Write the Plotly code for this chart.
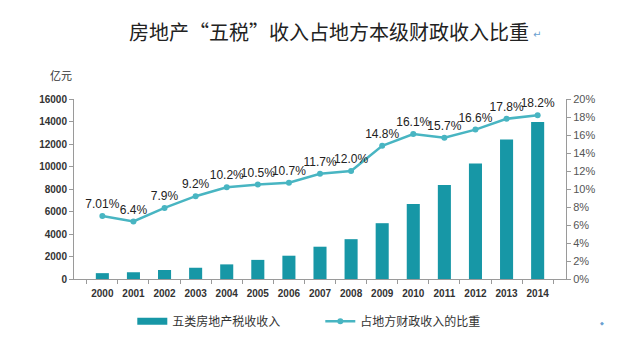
import plotly.graph_objects as go

years = ["2000","2001","2002","2003","2004","2005","2006","2007","2008","2009","2010","2011","2012","2013","2014"]
tax_revenue = [520, 600, 800, 1000, 1300, 1700, 2070, 2870, 3540, 4960, 6670, 8350, 10270, 12400, 13960]
share_pct = [7.01, 6.4, 7.9, 9.2, 10.2, 10.5, 10.7, 11.7, 12.0, 14.8, 16.1, 15.7, 16.6, 17.8, 18.2]
share_labels = ["7.01%", "6.4%", "7.9%", "9.2%", "10.2%", "10.5%", "10.7%", "11.7%", "12.0%", "14.8%", "16.1%", "15.7%", "16.6%", "17.8%", "18.2%"]

title_text = "房地产“五税”收入占地方本级财政收入比重"
bar_name = "五类房地产税收收入"
line_name = "占地方财政收入的比重"

bar_color = "#1797a6"
line_color = "#48b5c2"
cjk = "Noto Sans CJK SC"

fig = go.Figure()
fig.add_trace(go.Bar(
    x=years, y=tax_revenue, name=bar_name,
    marker=dict(color=bar_color, line=dict(width=0)),
    yaxis="y", showlegend=False,
))
# legend proxy giving the wide rectangular swatch of the bar series
fig.add_trace(go.Scatter(
    x=[None], y=[None], name=bar_name, mode="lines",
    line=dict(color=bar_color, width=7), yaxis="y",
))
fig.add_trace(go.Scatter(
    x=years, y=share_pct, name=line_name, yaxis="y2",
    mode="lines+markers+text",
    line=dict(color=line_color, width=2.5),
    marker=dict(color=line_color, size=6),
    text=share_labels, textposition="top center",
    textfont=dict(family="Liberation Sans", size=12, color="#222222"),
    cliponaxis=False,
))

fig.update_layout(
    width=630, height=340,
    margin=dict(l=74, r=64, t=99, b=61, autoexpand=False),
    paper_bgcolor="white", plot_bgcolor="white",
    bargap=0.58,
    showlegend=True,
    legend=dict(
        orientation="h", xref="container", yref="container",
        x=0.21, y=0.055, xanchor="left", yanchor="middle",
        font=dict(family=cjk, size=12, color="#333333"),
        entrywidth=143, entrywidthmode="pixels",
        itemwidth=30,
    ),
    xaxis=dict(
        type="category", showline=True, linecolor="#9a9a9a", linewidth=1,
        ticks="outside", tickson="boundaries", ticklen=4, tickcolor="#9a9a9a",
        showgrid=False, tickangle=0, automargin=False, ticklabelstandoff=5,
        tickfont=dict(family="Liberation Sans", size=10, color="#333333", weight="bold"),
    ),
    yaxis=dict(
        range=[0, 16000], dtick=2000, tickformat="d", showgrid=False,
        showline=True, linecolor="#9a9a9a", linewidth=1,
        ticks="outside", ticklen=4, tickcolor="#9a9a9a", automargin=False,
        tickfont=dict(family="Liberation Sans", size=10, color="#333333", weight="bold"),
        zeroline=False,
    ),
    yaxis2=dict(
        range=[0, 20], dtick=2, overlaying="y", side="right",
        showgrid=False, showline=True, linecolor="#9a9a9a", linewidth=1,
        ticks="outside", ticklen=4, tickcolor="#9a9a9a", automargin=False,
        ticksuffix="%",
        tickfont=dict(family="Liberation Sans", size=11, color="#555555"),
        zeroline=False,
    ),
    annotations=[
        dict(text=title_text, xref="paper", yref="paper",
             x=(127 - 74) / 492, y=(279 - 31) / 180,
             xanchor="left", yanchor="middle", showarrow=False,
             font=dict(family=cjk, size=20, color="#222222")),
        dict(text="↵", xref="paper", yref="paper",
             x=(531 - 74) / 492, y=(279 - 35) / 180,
             xanchor="left", yanchor="middle", showarrow=False,
             font=dict(family="DejaVu Sans", size=10, color="#6aa0d0")),
        dict(text="亿元", xref="paper", yref="paper",
             x=(61 - 74) / 492, y=(279 - 75) / 180,
             xanchor="center", yanchor="middle", showarrow=False,
             font=dict(family=cjk, size=11, color="#333333")),
        dict(text="◆", xref="paper", yref="paper",
             x=(602 - 74) / 492, y=(279 - 323) / 180,
             xanchor="center", yanchor="middle", showarrow=False,
             font=dict(family="DejaVu Sans", size=5, color="#6aa0d0")),
    ],
)

fig.write_html("out.html")
